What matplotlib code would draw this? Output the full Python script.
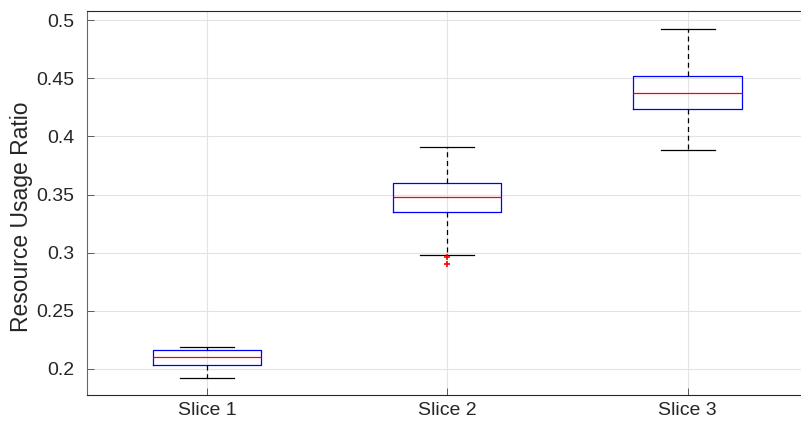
import matplotlib
matplotlib.use("Agg")
import matplotlib.pyplot as plt

plt.rcParams['font.family'] = ['Liberation Sans', 'DejaVu Sans']

# Summary statistics of resource usage ratio per slice
categories = ["Slice 1", "Slice 2", "Slice 3"]
whisker_low = [0.1924, 0.2983, 0.3881]
q1 = [0.2034, 0.3353, 0.4239]
median = [0.2100, 0.3477, 0.4374]
q3 = [0.2160, 0.3602, 0.4523]
whisker_high = [0.2186, 0.3907, 0.4925]
outliers = [[], [0.2966, 0.2900], []]
yticks = [0.2, 0.25, 0.3, 0.35, 0.4, 0.45, 0.5]
ytick_labels = ["0.2", "0.25", "0.3", "0.35", "0.4", "0.45", "0.5"]

stats = []
for i, name in enumerate(categories):
    stats.append(dict(label=name, whislo=whisker_low[i], q1=q1[i], med=median[i],
                      q3=q3[i], whishi=whisker_high[i], fliers=outliers[i]))

fig = plt.figure(figsize=(8.01, 4.23), dpi=100)
ax = fig.add_axes([0.1082, 0.0662, 0.9002, 0.9071])

ax.grid(True, color='#e3e3e3', linewidth=0.8, zorder=0)
ax.set_axisbelow(True)

ax.bxp(stats, positions=[1, 2, 3], widths=0.45, showfliers=True,
       boxprops=dict(color='#0000ff', linewidth=0.9),
       medianprops=dict(color='#ff0000', linewidth=0.9),
       whiskerprops=dict(color='black', linestyle=(0, (4, 3)), linewidth=0.9),
       capprops=dict(color='black', linewidth=0.9),
       flierprops=dict(marker='+', markeredgecolor='#ff0000', markersize=4,
                       markeredgewidth=1.2, linestyle='none'))

ax.set_xlim(0.5, 3.5)
ax.set_ylim(0.1776, 0.5077)
ax.set_yticks(yticks)
ax.set_yticklabels(ytick_labels)
ax.set_xticks([1, 2, 3])
ax.set_xticklabels(categories)

ax.tick_params(axis='both', direction='in', length=5, width=0.6, color='#444444',
               labelsize=14, labelcolor='#262626')
ax.tick_params(axis='y', pad=9)
ax.tick_params(axis='x', pad=5)
ax.set_ylabel("Resource Usage Ratio", fontsize=16.5, color='#262626')
ax.yaxis.set_label_coords(-0.0745, 0.464)

for side in ['left', 'bottom', 'top', 'right']:
    ax.spines[side].set_color('#262626')
    ax.spines[side].set_linewidth(0.8)
ax.spines['left'].set_color('#666666')

fig.savefig("out.png", dpi=100)
